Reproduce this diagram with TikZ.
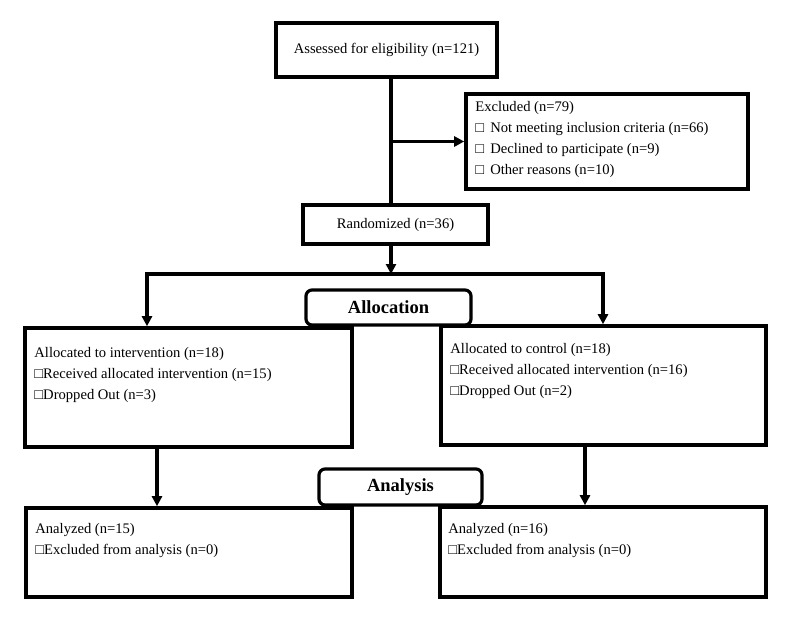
\documentclass[tikz,border=0pt]{standalone}
\usepackage{fontspec}
\setmainfont{Liberation Serif}
\usetikzlibrary{arrows.meta, positioning}

\begin{document}
\begin{tikzpicture}[x=1pt, y=-1pt,
    every node/.style = {font=\fontsize{14.6}{21}\selectfont},
    box/.style   = {draw, rectangle, line width=3.6pt, inner sep=0pt},
    stage/.style = {draw, rectangle, rounded corners=6pt, line width=3.2pt,
      fill=white, inner sep=0pt, font=\fontsize{18.5}{22}\selectfont\bfseries},
    note/.style  = {inner sep=0pt, align=left},
    flow/.style  = {line width=3.2pt, line join=miter},
    tip/.style   = {-{Triangle[length=10pt,width=10pt]}}
  ]
  \useasboundingbox (0,0) rectangle (794,619);

  \node[box, minimum width=221, minimum height=54] (assessBox) at (386.5,50)
    {Assessed for eligibility (n=121)};
  \node[box, minimum width=282, minimum height=95] (exclBox) at (607,141.5) {};
  \node[box, minimum width=185, minimum height=39] (randBox) at (395.5,224.5)
    {Randomized (n=36)};
  \node[box, minimum width=327, minimum height=119] (allocL) at (188.5,387.5) {};
  \node[box, minimum width=325, minimum height=119] (allocR) at (603.5,385.5) {};
  \node[box, minimum width=326, minimum height=89] (anaL) at (189,552.5) {};
  \node[box, minimum width=326, minimum height=90] (anaR) at (603,552) {};
  \node[stage, minimum width=165, minimum height=35] (allocStage) at (388.5,307.5) {Allocation};
  \node[stage, minimum width=163, minimum height=36] (anaStage) at (400.5,487) {Analysis};

  \node[note, below right=9pt and 11pt of exclBox.north west] (exclText)
    {Excluded (n=79)\\ □\ \,Not meeting inclusion criteria (n=66)\\
     □\ \,Declined to participate (n=9)\\ □\ \,Other reasons (n=10)};
  \node[note, below right=21pt and 11pt of allocL.north west] (allocLText)
    {Allocated to intervention (n=18)\\ □Received allocated intervention (n=15)\\
     □Dropped Out (n=3)};
  \node[note, below right=19pt and 11pt of allocR.north west] (allocRText)
    {Allocated to control (n=18)\\ □Received allocated intervention (n=16)\\
     □Dropped Out (n=2)};
  \node[note, below right=17pt and 11pt of anaL.north west] (anaLText)
    {Analyzed (n=15)\\ □Excluded from analysis (n=0)};
  \node[note, below right=18pt and 10pt of anaR.north west] (anaRText)
    {Analyzed (n=16)\\ □Excluded from analysis (n=0)};

  \coordinate (trunk) at (391,0);
  \coordinate (splitL) at (147,274);
  \coordinate (splitR) at (603,274);
  \coordinate (dropL) at (157,0);
  \coordinate (dropR) at (585,0);

  \draw[flow] (assessBox.south -| trunk) -- (randBox.north -| trunk);
  \draw[flow, tip] (exclBox.west -| trunk) -- (exclBox.west);
  \draw[flow, tip] (randBox.south -| trunk) -- (trunk |- splitL);
  \draw[flow, {Triangle[length=10pt,width=10pt]}-{Triangle[length=10pt,width=10pt]}]
    (splitL |- allocL.north) -- (splitL) -- (splitR) -- (splitR |- allocR.north);
  \draw[flow, tip] (allocL.south -| dropL) -- (anaL.north -| dropL);
  \draw[flow, tip] (allocR.south -| dropR) -- (anaR.north -| dropR);
\end{tikzpicture}
\end{document}
